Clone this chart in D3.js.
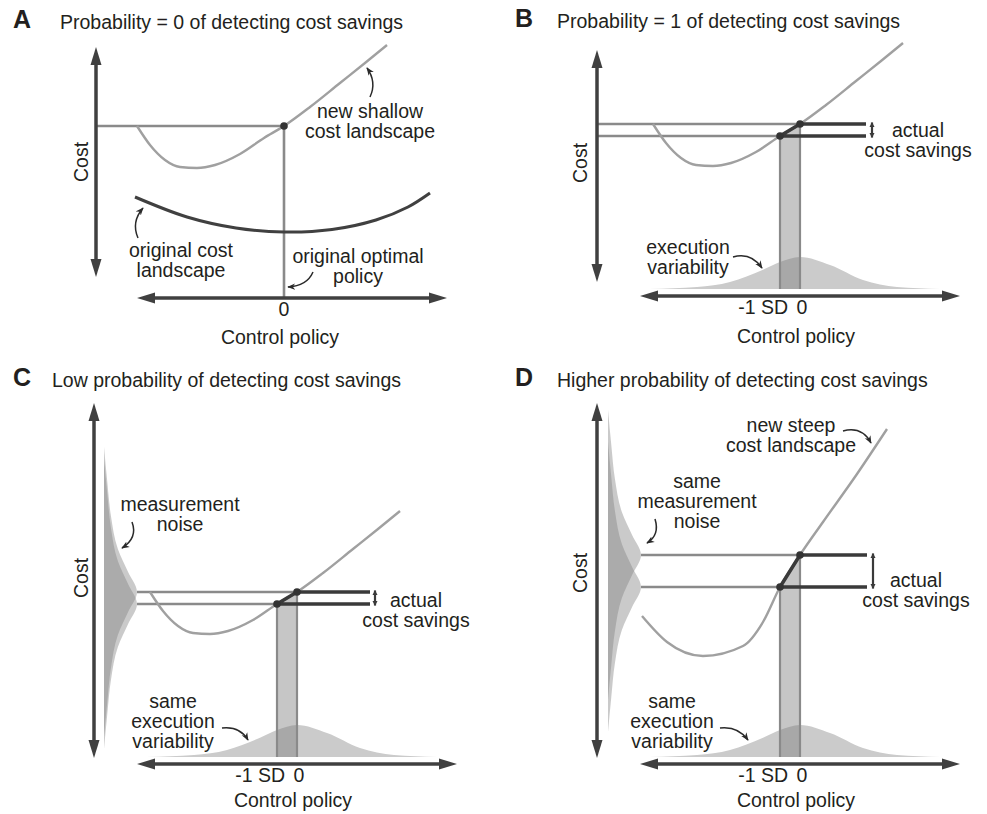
<!DOCTYPE html>
<html>
<head>
<meta charset="utf-8">
<script src="https://cdn.jsdelivr.net/npm/d3@7"></script>
<style>
  body { margin: 0; background: #fff; }
  text { font-family: "Liberation Sans", Arial, Helvetica, sans-serif; fill: #231f20; }
</style>
</head>
<body>
<svg id="fig" width="987" height="814"></svg>
<script>
// ---- data ----
const panelLetters = ["A", "B", "C", "D"];
const panelTitles = [
  "Probability = 0 of detecting cost savings",
  "Probability = 1 of detecting cost savings",
  "Low probability of detecting cost savings",
  "Higher probability of detecting cost savings"
];
// cost of the new landscape at the original optimal policy (0)
const costAtZero = [17.2, 17.2, 17.2, 20.9];
// new landscapes: [policy (SD), cost relative to cost at 0]
const shallowCurve = [[-7.35, 0], [-6.7, -1.9], [-5.95, -3.4], [-5.2, -4.1], [-4.35, -4.2], [-3.45, -3.9],
  [-2.2, -2.8], [-1, -1.2], [0, 0], [1.3, 1.9], [2.8, 4.3], [4.05, 6.3], [5.15, 8.1]];
const steepCurve = [[-7.9, -6.1], [-6.65, -8.7], [-4.85, -10.1], [-2.85, -9.1], [-1.85, -6.7], [-1, -3.2],
  [0, 0], [1.15, 3.3], [2.85, 8.1], [4.35, 12.6]];
// original landscape (panel A): [policy, cost]
const originalCurve = [[-7.45, 10.1], [-4.85, 8.1], [-2.4, 7.0], [0, 6.6], [2.4, 6.85], [4.6, 7.8],
  [6.2, 9.1], [7.3, 10.5]];
// execution variability: [policy offset, relative density]
const execDist = [[-7.5, 0], [-5.15, 0.06], [-3.5, 0.22], [-1.85, 0.6], [-1, 0.84], [0, 1], [1.5, 0.75],
  [3.15, 0.28], [4.85, 0.06], [7, 0]];
// measurement noise: [cost offset, relative density]
const noiseDist = [[-14.5, 0], [-11, 0.1], [-7.6, 0.21], [-4.3, 0.42], [-2, 0.73], [0, 1],
  [2, 0.73], [4.3, 0.42], [7.6, 0.21], [11, 0.1], [14.5, 0]];
const tickPolicies = [-1, 0];
const tickLabels = ["-1 SD", "0"];

// ---- layout ----
const layout = [
  { lx: 13, ly: 28, tx: 60, ty: 29, vx: 96, vy: [47, 277], hy: 298, hx: [137, 447], x0: 284, lineStart: 96,
    costX: 88, costY: 162, cpY: 46,
    labels: [{ x: 370, y: 118, lines: ["new shallow", "cost landscape"] },
             { x: 181, y: 257, lines: ["original cost", "landscape"] },
             { x: 358, y: 263, lines: ["original optimal", "policy"] }],
    arrows: [[370, 97, 377, 82, 367, 68], [138, 238, 131, 222, 143, 208], [313, 272, 307, 286, 288, 287]] },
  { lx: 515, ly: 27, tx: 557, ty: 28, vx: 597, vy: [50, 282], hy: 296, hx: [640, 960], x0: 800, lineStart: 597,
    costX: 587, costY: 163, cpY: 47, darkEnd: 866, dblX: 872,
    labels: [{ x: 918, y: 137, lines: ["actual", "cost savings"] },
             { x: 688, y: 254, lines: ["execution", "variability"] }],
    arrows: [[733, 257, 751, 252, 762, 268]] },
  { lx: 13, ly: 386, tx: 52, ty: 387, vx: 94, vy: [403, 758], hy: 764, hx: [137, 457], x0: 297, noiseBase: 104,
    costX: 88, costY: 578, cpY: 43, darkEnd: 370, dblX: 375,
    labels: [{ x: 180, y: 511, lines: ["measurement", "noise"] },
             { x: 416, y: 607, lines: ["actual", "cost savings"] },
             { x: 173, y: 708, lines: ["same", "execution", "variability"] }],
    arrows: [[132, 522, 138, 538, 122, 548], [222, 728, 240, 726, 248, 740]] },
  { lx: 515, ly: 386, tx: 557, ty: 387, vx: 597, vy: [403, 758], hy: 764, hx: [640, 960], x0: 800, noiseBase: 608,
    costX: 587, costY: 573, cpY: 43, darkEnd: 867, dblX: 873,
    labels: [{ x: 791, y: 432, lines: ["new steep", "cost landscape"] },
             { x: 697, y: 488, lines: ["same", "measurement", "noise"] },
             { x: 916, y: 587, lines: ["actual", "cost savings"] },
             { x: 672, y: 708, lines: ["same", "execution", "variability"] }],
    arrows: [[843, 431, 862, 426, 871, 443], [655, 519, 660, 535, 647, 543], [720, 728, 738, 726, 748, 740]] }
];

const AXIS = "#404040", REF = "#8a8a8a", CURVE = "#a0a0a0", DARK = "#3a3a3a";
const LINE_H = 19.8;

const svg = d3.select("#fig");
const defs = svg.append("defs");
defs.append("marker").attr("id", "ann").attr("viewBox", "0 0 10 10")
    .attr("refX", 9).attr("refY", 5).attr("markerWidth", 8).attr("markerHeight", 8)
    .attr("markerUnits", "userSpaceOnUse").attr("orient", "auto")
  .append("path").attr("d", "M0,1 L10,5 L0,9 L3,5 Z").attr("fill", "#2a2a2a");
defs.append("marker").attr("id", "dbl").attr("viewBox", "0 0 10 10")
    .attr("refX", 9).attr("refY", 5).attr("markerWidth", 5).attr("markerHeight", 7)
    .attr("markerUnits", "userSpaceOnUse").attr("orient", "auto-start-reverse")
  .append("path").attr("d", "M0,0 L10,5 L0,10 Z").attr("fill", DARK);

panelLetters.forEach(function(letter, i) { drawPanel(i); });

function drawPanel(i) {
  const L = layout[i];
  const g = svg.append("g");
  const x = d3.scaleLinear().domain([-1, 0]).range([L.x0 - 20, L.x0]);
  const y = d3.scaleLinear().domain([0, 10]).range([L.hy, L.hy - 100]);
  const c0 = costAtZero[i];
  const curve = i === 3 ? steepCurve : shallowCurve;
  const costAt = p => c0 + curve.find(d => d[0] === p)[1];
  const cm1 = costAt(-1);
  const base = y(0.7);

  // execution variability + shaded band
  if (i > 0) {
    const dens = d3.scaleLinear().domain([0, 1]).range([0, 32]);
    g.append("path").datum(execDist)
      .attr("d", d3.area().curve(d3.curveMonotoneX)
        .x(d => x(d[0])).y0(base).y1(d => base - dens(d[1])))
      .attr("fill", "#cbcbcb");
    g.append("path")
      .attr("d", "M" + x(-1) + "," + y(cm1) + "L" + x(0) + "," + y(c0) +
                 "L" + x(0) + "," + base + "L" + x(-1) + "," + base + "Z")
      .attr("fill", "#777").attr("opacity", 0.42);
  }

  // measurement noise
  if (i >= 2) {
    const nd = d3.scaleLinear().domain([0, 1]).range([0, 33]);
    [c0, cm1].forEach(function(c) {
      g.append("path").datum(noiseDist)
        .attr("d", d3.area().curve(d3.curveMonotoneY)
          .y(d => y(c + d[0])).x0(L.noiseBase).x1(d => L.noiseBase + nd(d[1])))
        .attr("fill", "#808080").attr("opacity", 0.42);
    });
  }

  const lineStart = i >= 2 ? L.noiseBase + 33 : L.lineStart;

  // reference lines
  g.append("line").attr("x1", lineStart).attr("x2", x(0)).attr("y1", y(c0)).attr("y2", y(c0))
    .attr("stroke", REF).attr("stroke-width", 2.6);
  if (i === 0) {
    g.append("line").attr("x1", x(0)).attr("x2", x(0)).attr("y1", y(c0)).attr("y2", L.hy)
      .attr("stroke", REF).attr("stroke-width", 2.6);
  } else {
    g.append("line").attr("x1", lineStart).attr("x2", x(-1)).attr("y1", y(cm1)).attr("y2", y(cm1))
      .attr("stroke", REF).attr("stroke-width", 2.6);
    tickPolicies.forEach(function(p) {
      g.append("line").attr("x1", x(p)).attr("x2", x(p)).attr("y1", y(costAt(p))).attr("y2", base)
        .attr("stroke", REF).attr("stroke-width", 2.2);
    });
  }

  // original landscape (A)
  if (i === 0) {
    g.append("path").datum(originalCurve)
      .attr("d", d3.line().curve(d3.curveCatmullRom.alpha(0.5)).x(d => x(d[0])).y(d => y(d[1])))
      .attr("fill", "none").attr("stroke", AXIS).attr("stroke-width", 3);
  }

  // new landscape
  g.append("path").datum(curve)
    .attr("d", d3.line().curve(d3.curveMonotoneX).x(d => x(d[0])).y(d => y(c0 + d[1])))
    .attr("fill", "none").attr("stroke", CURVE).attr("stroke-width", 2.4);

  // actual cost savings
  if (i > 0) {
    g.append("path")
      .attr("d", "M" + L.darkEnd + "," + y(c0) + "L" + x(0) + "," + y(c0) +
                 "L" + x(-1) + "," + y(cm1) + "L" + L.darkEnd + "," + y(cm1))
      .attr("fill", "none").attr("stroke", DARK).attr("stroke-width", 3.5)
      .attr("stroke-linejoin", "round");
    g.append("line").attr("x1", L.dblX).attr("x2", L.dblX).attr("y1", y(c0) - 1.5).attr("y2", y(cm1) + 1.5)
      .attr("stroke", DARK).attr("stroke-width", 2.2)
      .attr("marker-start", "url(#dbl)").attr("marker-end", "url(#dbl)");
    g.append("circle").attr("cx", x(-1)).attr("cy", y(cm1)).attr("r", 3.8).attr("fill", "#333");
  }
  g.append("circle").attr("cx", x(0)).attr("cy", y(c0)).attr("r", 3.8).attr("fill", "#333");

  // axes with arrowheads
  g.append("line").attr("x1", L.vx).attr("x2", L.vx).attr("y1", L.vy[0] + 10).attr("y2", L.vy[1] - 10)
    .attr("stroke", AXIS).attr("stroke-width", 3.5);
  g.append("line").attr("x1", L.hx[0] + 10).attr("x2", L.hx[1] - 10).attr("y1", L.hy).attr("y2", L.hy)
    .attr("stroke", AXIS).attr("stroke-width", 3.5);
  const heads = [
    [[L.vx, L.vy[0]], [L.vx - 5.5, L.vy[0] + 18], [L.vx + 5.5, L.vy[0] + 18]],
    [[L.vx, L.vy[1]], [L.vx - 5.5, L.vy[1] - 18], [L.vx + 5.5, L.vy[1] - 18]],
    [[L.hx[0], L.hy], [L.hx[0] + 18, L.hy - 5.5], [L.hx[0] + 18, L.hy + 5.5]],
    [[L.hx[1], L.hy], [L.hx[1] - 18, L.hy - 5.5], [L.hx[1] - 18, L.hy + 5.5]]
  ];
  g.selectAll(".head").data(heads).enter().append("polygon")
    .attr("points", d => d.map(p => p.join(",")).join(" "))
    .attr("fill", AXIS);

  // panel letter and title
  g.append("text").attr("x", L.lx).attr("y", L.ly).text(panelLetters[i])
    .style("font-size", "25px").style("font-weight", "bold");
  g.append("text").attr("x", L.tx).attr("y", L.ty).text(panelTitles[i]).style("font-size", "19.5px");

  // axis labels
  g.append("text").attr("transform", "translate(" + L.costX + "," + L.costY + ") rotate(-90)")
    .attr("text-anchor", "middle").style("font-size", "19.5px").text("Cost");
  g.append("text").attr("x", L.x0 - 4).attr("y", L.hy + L.cpY).attr("text-anchor", "middle")
    .style("font-size", "19.5px").text("Control policy");
  if (i === 0) {
    g.append("text").attr("x", x(0)).attr("y", L.hy + 18).attr("text-anchor", "middle")
      .style("font-size", "19.5px").text(tickLabels[1]);
  } else {
    g.append("text").attr("x", x(-1) + 8).attr("y", L.hy + 18).attr("text-anchor", "end")
      .style("font-size", "19.5px").text(tickLabels[0]);
    g.append("text").attr("x", x(0) + 2).attr("y", L.hy + 18).attr("text-anchor", "middle")
      .style("font-size", "19.5px").text(tickLabels[1]);
  }

  // annotations
  L.labels.forEach(function(lb) {
    lb.lines.forEach(function(s, k) {
      g.append("text").attr("x", lb.x).attr("y", lb.y + k * LINE_H).attr("text-anchor", "middle")
        .style("font-size", "19.5px").text(s);
    });
  });
  L.arrows.forEach(function(a) {
    g.append("path").attr("d", "M" + a[0] + "," + a[1] + "Q" + a[2] + "," + a[3] + " " + a[4] + "," + a[5])
      .attr("fill", "none").attr("stroke", "#2a2a2a").attr("stroke-width", 1.5)
      .attr("marker-end", "url(#ann)");
  });
}
</script>
</body>
</html>
